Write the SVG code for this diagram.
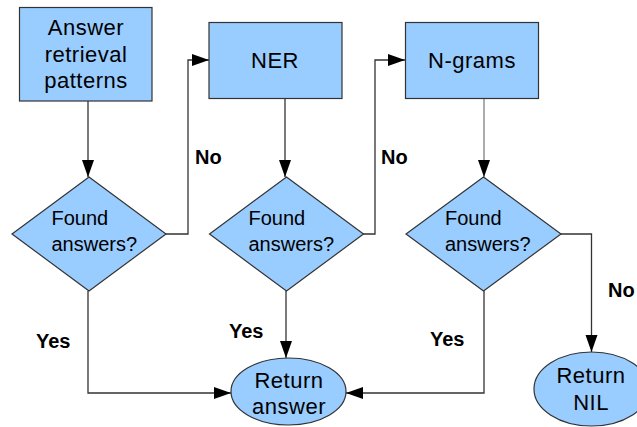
<svg xmlns="http://www.w3.org/2000/svg" width="637" height="427" viewBox="0 0 637 427">
<defs>
<marker id="arr" markerUnits="userSpaceOnUse" markerWidth="18" markerHeight="13" refX="17" refY="6" orient="auto">
<path d="M0,0 L17,6 L0,12 z" fill="#000"/>
</marker>
<style>
.shape{fill:#99ccff;stroke:#333;stroke-width:1.2}
.t{font-family:"Liberation Sans",Arial,sans-serif;fill:#000}
.big{font-size:22px;text-anchor:middle;letter-spacing:0.5px}
.dt{font-size:20px}
.lbl{font-family:"Liberation Sans",Arial,sans-serif;font-size:20px;font-weight:bold;fill:#000}
.c{fill:none;stroke:#333;stroke-width:1.3;marker-end:url(#arr)}
</style>
</defs>
<rect width="637" height="427" fill="#fff"/>
<g id="connectors">
<path class="c" d="M88,101 V177"/>
<path class="c" d="M166,234 H188 V60 H209"/>
<path class="c" d="M285,99 V177"/>
<path class="c" d="M363,234 H375 V60 H405"/>
<path class="c" d="M484,99 V177" style="stroke:#808080"/>
<path class="c" d="M561,234 H591.5 V352"/>
<path class="c" d="M88,291 V393 H231"/>
<path class="c" d="M286,291 V358"/>
<path class="c" d="M484,291 V393 H346"/>
</g>
<g id="labels">
<text class="lbl" x="195" y="164">No</text>
<text class="lbl" x="381" y="164">No</text>
<text class="lbl" x="608" y="297">No</text>
<text class="lbl" x="36" y="348">Yes</text>
<text class="lbl" x="229" y="338">Yes</text>
<text class="lbl" x="430" y="346">Yes</text>
</g>
<g id="patterns">
<rect class="shape" x="19.5" y="7.5" width="132.5" height="93.5"/>
<text class="t big" x="86" y="35">Answer</text>
<text class="t big" x="86" y="62">retrieval</text>
<text class="t big" x="86" y="88">patterns</text>
</g>
<g id="ner">
<rect class="shape" x="209" y="22.5" width="133" height="76"/>
<text class="t big" x="275" y="68">NER</text>
</g>
<g id="ngrams">
<rect class="shape" x="405.5" y="22.5" width="133" height="76"/>
<text class="t big" x="472" y="68">N-grams</text>
</g>
<g id="decision1">
<path class="shape" d="M89,177 L166,234 L89,291 L12,234 z"/>
<text class="t dt" x="51.5" y="225">Found</text>
<text class="t dt" x="51.5" y="251">answers?</text>
</g>
<g id="decision2">
<path class="shape" d="M286.5,177 L363.5,234 L286.5,291 L209.5,234 z"/>
<text class="t dt" x="248.5" y="225">Found</text>
<text class="t dt" x="248.5" y="251">answers?</text>
</g>
<g id="decision3">
<path class="shape" d="M483.5,177 L561,234 L483.5,291 L406,234 z"/>
<text class="t dt" x="445" y="225">Found</text>
<text class="t dt" x="445" y="251">answers?</text>
</g>
<g id="return-answer">
<ellipse class="shape" cx="288.5" cy="391.5" rx="57.5" ry="33.5"/>
<text class="t big" x="289" y="388">Return</text>
<text class="t big" x="289" y="414">answer</text>
</g>
<g id="return-nil">
<ellipse class="shape" cx="591.5" cy="389" rx="57.5" ry="37"/>
<text class="t big" x="591" y="383">Return</text>
<text class="t big" x="591" y="410">NIL</text>
</g>
</svg>
